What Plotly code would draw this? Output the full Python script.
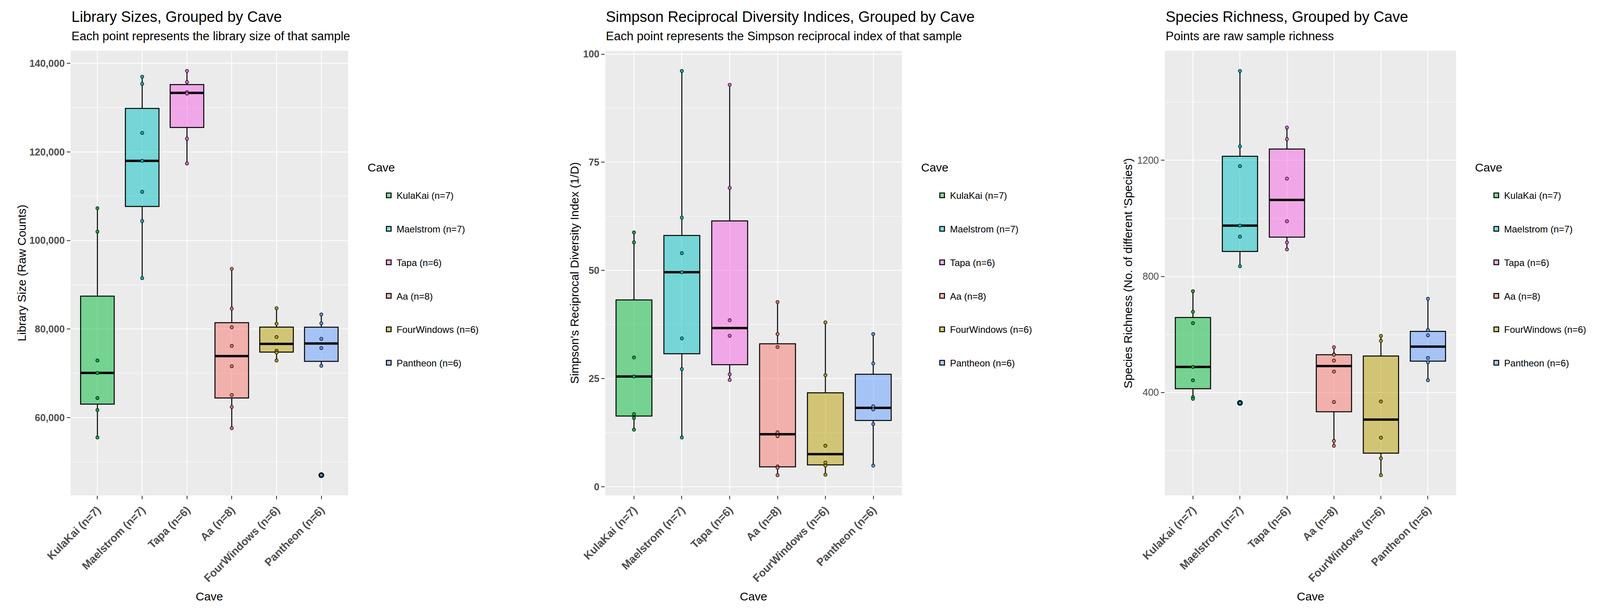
import numpy as np
import plotly.graph_objects as go

# categories and colours (ggplot default hue palette)
caves = ["KulaKai (n=7)", "Maelstrom (n=7)", "Tapa (n=6)", "Aa (n=8)",
         "FourWindows (n=6)", "Pantheon (n=6)"]
cave_colors = ["#00BA38", "#00BFC4", "#F564E3", "#F8766D", "#B79F00", "#619CFF"]

# library sizes (raw counts) per cave
lib_kulakai = [107300, 102000, 72900, 70100, 64400, 61700, 55500]
lib_maelstrom = [137000, 135400, 124300, 118000, 111000, 104400, 91500]
lib_tapa = [138300, 135800, 133500, 133200, 123000, 117400]
lib_aa = [93600, 84600, 80400, 76200, 71600, 65100, 62400, 57600]
lib_fourwindows = [84700, 81200, 78200, 75100, 74700, 72900]
lib_pantheon = [83300, 81300, 77800, 75700, 71700, 47000]

# Simpson reciprocal diversity index (1/D) per cave
simp_kulakai = [58.8, 56.5, 29.9, 25.5, 16.8, 15.9, 13.2]
simp_maelstrom = [96.1, 62.2, 54.0, 49.6, 34.3, 27.2, 11.4]
simp_tapa = [92.9, 69.1, 38.5, 34.9, 26.0, 24.7]
simp_aa = [42.7, 35.3, 32.3, 12.6, 11.7, 4.7, 4.4, 2.7]
simp_fourwindows = [38.0, 25.8, 9.5, 5.6, 4.9, 2.8]
simp_pantheon = [35.3, 28.5, 18.6, 17.9, 14.5, 4.9]

# species richness per cave
rich_kulakai = [749, 678, 639, 488, 442, 384, 378]
rich_maelstrom = [1508, 1248, 1180, 975, 937, 835, 364]
rich_tapa = [1313, 1273, 1137, 990, 917, 893]
rich_aa = [556, 531, 530, 510, 472, 367, 233, 216]
rich_fourwindows = [595, 578, 369, 244, 173, 115]
rich_pantheon = [723, 615, 597, 519, 504, 442]

FONT = "Liberation Sans, Arial, sans-serif"
W, H = 4201, 1564      # reference pixel grid used for positions below
FIG_W = 4096           # the browser only shows this much width

panels = [
    dict(data=[lib_kulakai, lib_maelstrom, lib_tapa, lib_aa, lib_fourwindows, lib_pantheon],
         title="Library Sizes, Grouped by Cave",
         subtitle="Each point represents the library size of that sample",
         ytitle="Library Size (Raw Counts)", fmt=",", dtick=20000, minor=10000,
         bold=True, xdom=(177, 906), ytx=48, legx=955),
    dict(data=[simp_kulakai, simp_maelstrom, simp_tapa, simp_aa, simp_fourwindows, simp_pantheon],
         title="Simpson Reciprocal Diversity Indices, Grouped by Cave",
         subtitle="Each point represents the Simpson reciprocal index of that sample",
         ytitle="Simpson's Reciprocal Diversity Index (1/D)", fmt="", dtick=25, minor=12.5,
         bold=True, xdom=(1581, 2360), ytx=1499, legx=2408),
    dict(data=[rich_kulakai, rich_maelstrom, rich_tapa, rich_aa, rich_fourwindows, rich_pantheon],
         title="Species Richness, Grouped by Cave",
         subtitle="Points are raw sample richness",
         ytitle="Species Richness (No. of different 'Species')", fmt="", dtick=400, minor=200,
         bold=False, xdom=(3050, 3815), ytx=2953, legx=3863),
]


def box_stats(vals):
    v = np.sort(np.asarray(vals, dtype=float))
    q1, med, q3 = np.percentile(v, [25, 50, 75])
    iqr = q3 - q1
    ok = (v >= q1 - 1.5 * iqr) & (v <= q3 + 1.5 * iqr)
    return q1, med, q3, v[ok].min(), v[ok].max(), v[~ok]


def rgba(hex_color, a):
    h = hex_color.lstrip("#")
    r, g, b = int(h[0:2], 16), int(h[2:4], 16), int(h[4:6], 16)
    return f"rgba({r},{g},{b},{a})"


def text(s, x, y, size, angle=0, xanchor="left"):
    return dict(text=s, xref="paper", yref="paper", x=x / W, y=1 - y / H,
                xanchor=xanchor, yanchor="middle", showarrow=False, textangle=angle,
                font=dict(family=FONT, size=size, color="black"))


fig = go.Figure()
annotations = []
top, bottom = 122, 1260
y_dom = (1 - bottom / H, 1 - top / H)

for p, panel in enumerate(panels, start=1):
    sfx = "" if p == 1 else str(p)
    xref, yref = "x" + sfx, "y" + sfx
    leg = "legend" + sfx

    for i, (name, vals, col) in enumerate(zip(caves, panel["data"], cave_colors)):
        q1, med, q3, lo, hi, out = box_stats(vals)
        fig.add_trace(go.Box(
            x=[i], q1=[q1], median=[med], q3=[q3], lowerfence=[lo], upperfence=[hi],
            width=0.75, whiskerwidth=0, boxpoints=False,
            fillcolor=rgba(col, 0.5), line=dict(color="black", width=2.5),
            name=name, legend=leg, legendgroup=f"{p}-{i}", showlegend=True,
            hoverinfo="skip", xaxis=xref, yaxis=yref))
        # thicker median bar, like ggplot's fatten
        fig.add_trace(go.Scatter(
            x=[i - 0.375, i + 0.375], y=[med, med], mode="lines",
            line=dict(color="black", width=6), showlegend=False,
            hoverinfo="skip", xaxis=xref, yaxis=yref))
        if len(out):
            fig.add_trace(go.Scatter(
                x=[i] * len(out), y=out, mode="markers",
                marker=dict(size=12, color=col, line=dict(color="black", width=2.5)),
                showlegend=False, hoverinfo="skip", xaxis=xref, yaxis=yref))
        fig.add_trace(go.Scatter(
            x=[i] * len(vals), y=vals, mode="markers",
            marker=dict(size=8, color=col, line=dict(color="black", width=1.5)),
            showlegend=False, xaxis=xref, yaxis=yref))

    allv = np.concatenate([np.asarray(v, float) for v in panel["data"]])
    pad = 0.05 * (allv.max() - allv.min())
    x0, x1 = panel["xdom"]

    fig.update_layout(**{
        "xaxis" + sfx: dict(
            domain=[x0 / W, x1 / W], anchor=yref, range=[-0.6, 5.6], automargin=False,
            tickmode="array", tickvals=list(range(len(caves))), ticktext=caves,
            tickangle=-45, ticks="outside", ticklen=9, tickwidth=2, tickcolor="#333333",
            tickfont=dict(family=FONT, size=28, color="#4D4D4D", weight="bold"),
            showgrid=True, gridcolor="white", gridwidth=2.2, zeroline=False),
        "yaxis" + sfx: dict(
            domain=list(y_dom), anchor=xref, automargin=False,
            range=[allv.min() - pad, allv.max() + pad],
            dtick=panel["dtick"], tick0=0, tickformat=panel["fmt"],
            ticks="outside", ticklen=9, tickwidth=2, tickcolor="#333333",
            tickfont=dict(family=FONT, size=25, color="#4D4D4D",
                          weight="bold" if panel["bold"] else "normal"),
            showgrid=True, gridcolor="white", gridwidth=2.2, zeroline=False,
            minor=dict(dtick=panel["minor"], tick0=0, showgrid=True,
                       gridcolor="white", gridwidth=1.1)),
        leg: dict(
            xref="container", yref="container",
            x=(panel["legx"] + 37) / W, y=1 - 470 / H, xanchor="left", yanchor="top",
            font=dict(family=FONT, size=24, color="black"),
            bgcolor="rgba(0,0,0,0)", tracegroupgap=51.5, itemwidth=30),
    })

    annotations.append(text(panel["title"], x0, 35, 38))
    annotations.append(text(panel["subtitle"], x0, 84, 31))
    annotations.append(text(panel["ytitle"], panel["ytx"], (top + bottom) / 2, 30,
                            angle=-90, xanchor="center"))
    annotations.append(text("Cave", (x0 + x1) / 2, 1518, 30, xanchor="center"))
    annotations.append(text("Cave", panel["legx"], 420, 30))

fig.update_layout(
    width=FIG_W, height=H,
    margin=dict(l=0, r=0, t=0, b=0, autoexpand=False),
    paper_bgcolor="white", plot_bgcolor="#EBEBEB",
    boxmode="overlay",
    annotations=annotations,
    font=dict(family=FONT),
)

fig.write_html("out.html")
